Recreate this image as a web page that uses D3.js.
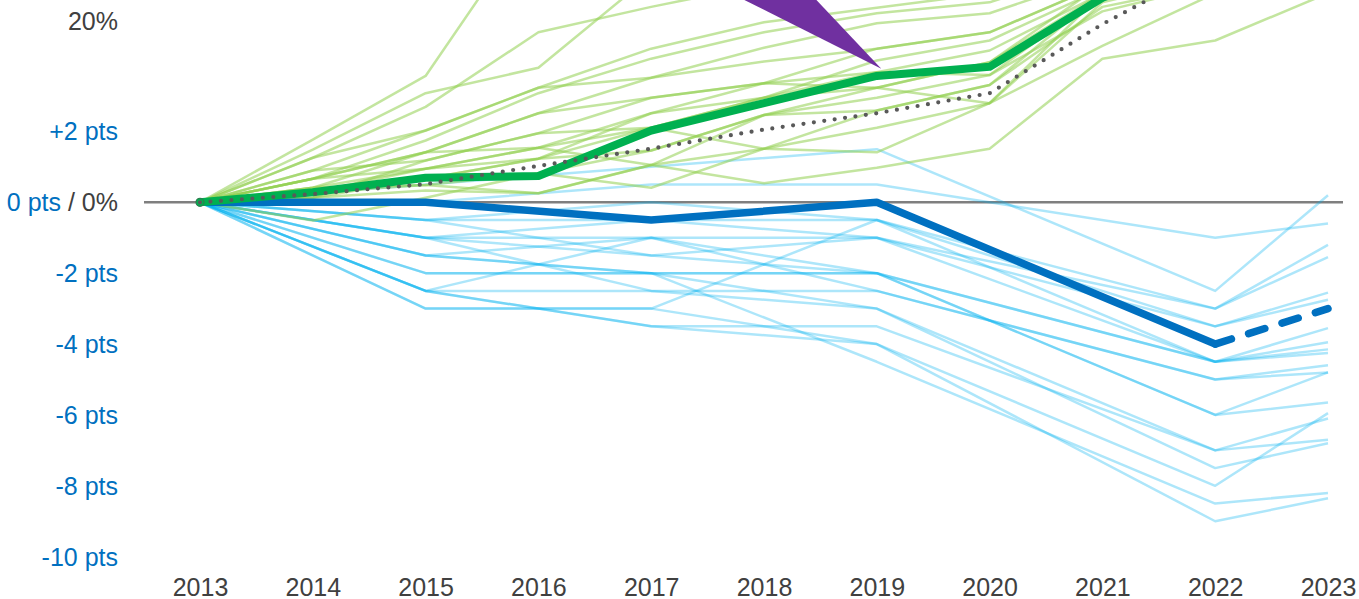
<!DOCTYPE html>
<html>
<head>
<meta charset="utf-8">
<script src="https://cdn.jsdelivr.net/npm/d3@7"></script>
<style>
  html, body { margin: 0; padding: 0; background: #ffffff; overflow: hidden; }
  svg { display: block; }
  text { font-family: "Liberation Sans", Arial, sans-serif; font-size: 25px; }
</style>
</head>
<body>
<svg id="chart" width="1359" height="599"></svg>
<script>
// ---------------- DATA ----------------
const years = [2013, 2014, 2015, 2016, 2017, 2018, 2019, 2020, 2021, 2022, 2023];
const blueYears = [2013, 2015, 2017, 2019, 2022, 2023];

// Thick green series (% change since 2013)
const greenMain = [0, 1.1, 2.7, 2.9, 7.9, 10.9, 13.9, 14.9, 22.5, 27, 30];
// Dotted grey benchmark (% change since 2013)
const benchmark = [0, 0.9, 2.0, 4.0, 5.9, 8.0, 9.8, 12.0, 19.6, 26.2, 30];
// Thick blue series (pts change since 2013), last segment dashed
const blueMain = [0, 0, -0.5, 0, -4.0, -3.0];

// Thin green series (%), one row per line
const greenThin = [
  [0, 6.9, 13.9, 32, 35, 37, 39, 41, 43, 45, 47],
  [0, 5.8, 12.0, 14.8, 25, 27, 29, 31, 33, 35, 37],
  [0, 4.9, 10.5, 18.7, 21.5, 24, 26, 28, 31, 33, 35],
  [0, 3.5, 7.9, 12.6, 16.9, 19.8, 21.4, 23, 27, 29, 31],
  [0, 2.6, 6.8, 12.0, 15.8, 18.7, 20.8, 22, 26, 28, 30],
  [0, 1.6, 5.5, 9.8, 13.7, 17.0, 19.7, 20.8, 25, 27, 29],
  [0, 3.5, 4.6, 7.6, 11.5, 13.1, 16.9, 18.7, 24, 27, 30],
  [0, 2.6, 3.7, 6.0, 9.8, 11.5, 15.6, 17.8, 23.5, 26, 28],
  [0, 1.1, 2.6, 4.8, 8.2, 11.5, 14.3, 16.7, 23, 26, 28],
  [0, 1.6, 1.9, 3.2, 5.7, 9.6, 12.6, 15.4, 24, 27, 29],
  [0, 0.5, 1.3, 1.0, 4.1, 9.6, 11.5, 14.0, 23, 25, 27],
  [0, -2.0, 0.5, 3.2, 1.6, 5.9, 10.1, 12.9, 23, 26, 28],
  [0, 1.1, 3.7, 6.0, 4.1, 2.1, 3.8, 5.9, 15.8, 17.8, 23],
  [0, 2.6, 5.5, 9.8, 11.5, 13.1, 12.6, 10.9, 17.2, 23, 27],
  [0, 0.5, 4.6, 7.6, 8.2, 5.9, 5.5, 10.9, 22, 25, 28],
  [0, 4.9, 7.9, 12.6, 13.7, 15.5, 16.9, 18.7, 24, 27, 30],
  [0, 1.6, 3.7, 4.8, 9.8, 13.1, 14.3, 14.0, 21, 24, 26],
  [0, 2.6, 5.5, 6.0, 8.2, 11.5, 12.6, 15.4, 23, 26, 28],
  [0, 0.5, 2.6, 4.8, 5.7, 9.6, 10.1, 12.9, 21.5, 24, 27],
  [0, 1.1, 1.9, 1.0, 4.1, 5.9, 8.2, 10.9, 23, 26, 28]
];

// Thin blue series (pts) at blueYears, one row per line
const blueThin = [
  [0, 0.5, 1.0, 1.5, -2.5, 0.2],
  [0, 0, 0.5, 0.5, -1.0, -0.6],
  [0, -0.5, 0, -0.5, -3.0, -1.2],
  [0, -0.5, -0.5, -1.0, -3.0, -1.55],
  [0, -1.0, -0.5, -0.5, -3.5, -2.55],
  [0, -1.0, -1.0, -1.0, -3.5, -2.75],
  [0, -1.0, -1.5, -1.0, -4.5, -3.55],
  [0, -1.5, -1.0, -2.0, -4.5, -3.95],
  [0, -1.5, -2.0, -2.0, -4.5, -4.15],
  [0, -3.0, -3.0, -0.5, -4.5, -4.25],
  [0, -2.5, -1.0, -2.5, -5.0, -4.6],
  [0, -2.5, -2.5, -2.5, -5.0, -4.8],
  [0, -2.0, -2.0, -2.0, -6.0, -5.65],
  [0, -1.5, -2.0, -3.0, -7.0, -6.1],
  [0, -2.5, -3.5, -3.5, -7.0, -6.7],
  [0, -1.0, -2.5, -3.0, -7.5, -6.8],
  [0, -3.0, -3.0, -4.0, -8.0, -5.95],
  [0, -2.0, -2.0, -4.5, -8.5, -8.2],
  [0, -2.5, -3.5, -4.0, -9.0, -8.35],
  [0, -0.5, -1.5, -2.0, -6.0, -4.8]
];

// Axis tick labels
const ptsTicks = [2, -2, -4, -6, -8, -10];
const pctTicks = [20];

// Purple callout pointer (data units: year, %)
const calloutYears = [2017.12, 2018.13, 2019.04];
const calloutPct = [26.65, 26.65, 14.7];

// ---------------- CHART ----------------
const svg = d3.select("#chart");
const x = d3.scaleLinear().domain([2013, 2023]).range([200, 1328]);
const yPts = d3.scaleLinear().domain([0, -10]).range([202.3, 556.7]);
const yPct = d3.scaleLinear().domain([0, 20]).range([202.3, 20.5]);

const BLUE = "#0070C0", GREY_TXT = "#404040";

// zero line
svg.append("line")
  .attr("x1", 144).attr("x2", 1343)
  .attr("y1", yPts(0)).attr("y2", yPts(0))
  .attr("stroke", "#7F7F7F").attr("stroke-width", 2.5);

const linePct = d3.line().x((d, i) => x(years[i])).y(d => yPct(d));
const linePtsB = d3.line().x((d, i) => x(blueYears[i])).y(d => yPts(d));

// thin blue
svg.append("g").selectAll("path").data(blueThin).join("path")
  .attr("d", d => linePtsB(d))
  .attr("fill", "none").attr("stroke", "#00B0F0")
  .attr("stroke-opacity", 0.32).attr("stroke-width", 2.5)
  .attr("stroke-linejoin", "round");

// thin green
svg.append("g").selectAll("path").data(greenThin).join("path")
  .attr("d", d => linePct(d))
  .attr("fill", "none").attr("stroke", "#92D050")
  .attr("stroke-opacity", 0.55).attr("stroke-width", 2.5)
  .attr("stroke-linejoin", "round");

// thick blue (solid up to 2022, dashed to 2023)
const blueSolid = blueMain.slice(0, 5);
svg.append("path")
  .attr("d", linePtsB(blueSolid))
  .attr("fill", "none").attr("stroke", BLUE).attr("stroke-width", 7.5)
  .attr("stroke-linejoin", "round").attr("stroke-linecap", "round");
const lineDash = d3.line().x((d, i) => x(blueYears[4 + i])).y(d => yPts(d));
svg.append("path")
  .attr("d", lineDash(blueMain.slice(4)))
  .attr("fill", "none").attr("stroke", BLUE).attr("stroke-width", 7.5)
  .attr("stroke-dasharray", "17,18").attr("stroke-linecap", "round");

// thick green
svg.append("path")
  .attr("d", linePct(greenMain))
  .attr("fill", "none").attr("stroke", "#00B050").attr("stroke-width", 8)
  .attr("stroke-linejoin", "round").attr("stroke-linecap", "round");

// dotted benchmark
svg.append("path")
  .attr("d", linePct(benchmark))
  .attr("fill", "none").attr("stroke", "#595959").attr("stroke-width", 4.2)
  .attr("stroke-dasharray", "0,10.5").attr("stroke-linecap", "round");

// start marker outline
svg.append("circle")
  .attr("cx", x(2013)).attr("cy", yPct(0)).attr("r", 4)
  .attr("fill", "none").attr("stroke", "#2E7D4F").attr("stroke-width", 1.2);

// callout pointer
svg.append("polygon")
  .attr("points", calloutYears.map((yr, i) => [x(yr), yPct(calloutPct[i])].join(",")).join(" "))
  .attr("fill", "#7030A0");

// year axis
const xAxis = d3.axisBottom(x).tickValues(years).tickFormat(d3.format("d")).tickSize(0).tickPadding(0);
const gx = svg.append("g").attr("transform", "translate(0,578)").call(xAxis);
gx.select(".domain").remove();
gx.selectAll("text").attr("fill", GREY_TXT).style("font-size", "25px")
  .style("font-family", '"Liberation Sans", Arial, sans-serif');

// left labels
const gy = svg.append("g");
gy.selectAll("text.pts").data(ptsTicks).join("text")
  .attr("class", "pts")
  .attr("x", 118).attr("y", d => yPts(d)).attr("dy", "0.36em")
  .attr("text-anchor", "end").attr("fill", BLUE)
  .text(d => (d > 0 ? "+" : "") + d + " pts");
gy.selectAll("text.pct").data(pctTicks).join("text")
  .attr("class", "pct")
  .attr("x", 118).attr("y", d => yPct(d)).attr("dy", "0.36em")
  .attr("text-anchor", "end").attr("fill", GREY_TXT)
  .text(d => d + "%");
const zero = gy.append("text")
  .attr("x", 118).attr("y", yPts(0)).attr("dy", "0.36em").attr("text-anchor", "end");
zero.append("tspan").attr("fill", BLUE).text("0 pts");
zero.append("tspan").attr("fill", GREY_TXT).text(" / 0%");
</script>
</body>
</html>
